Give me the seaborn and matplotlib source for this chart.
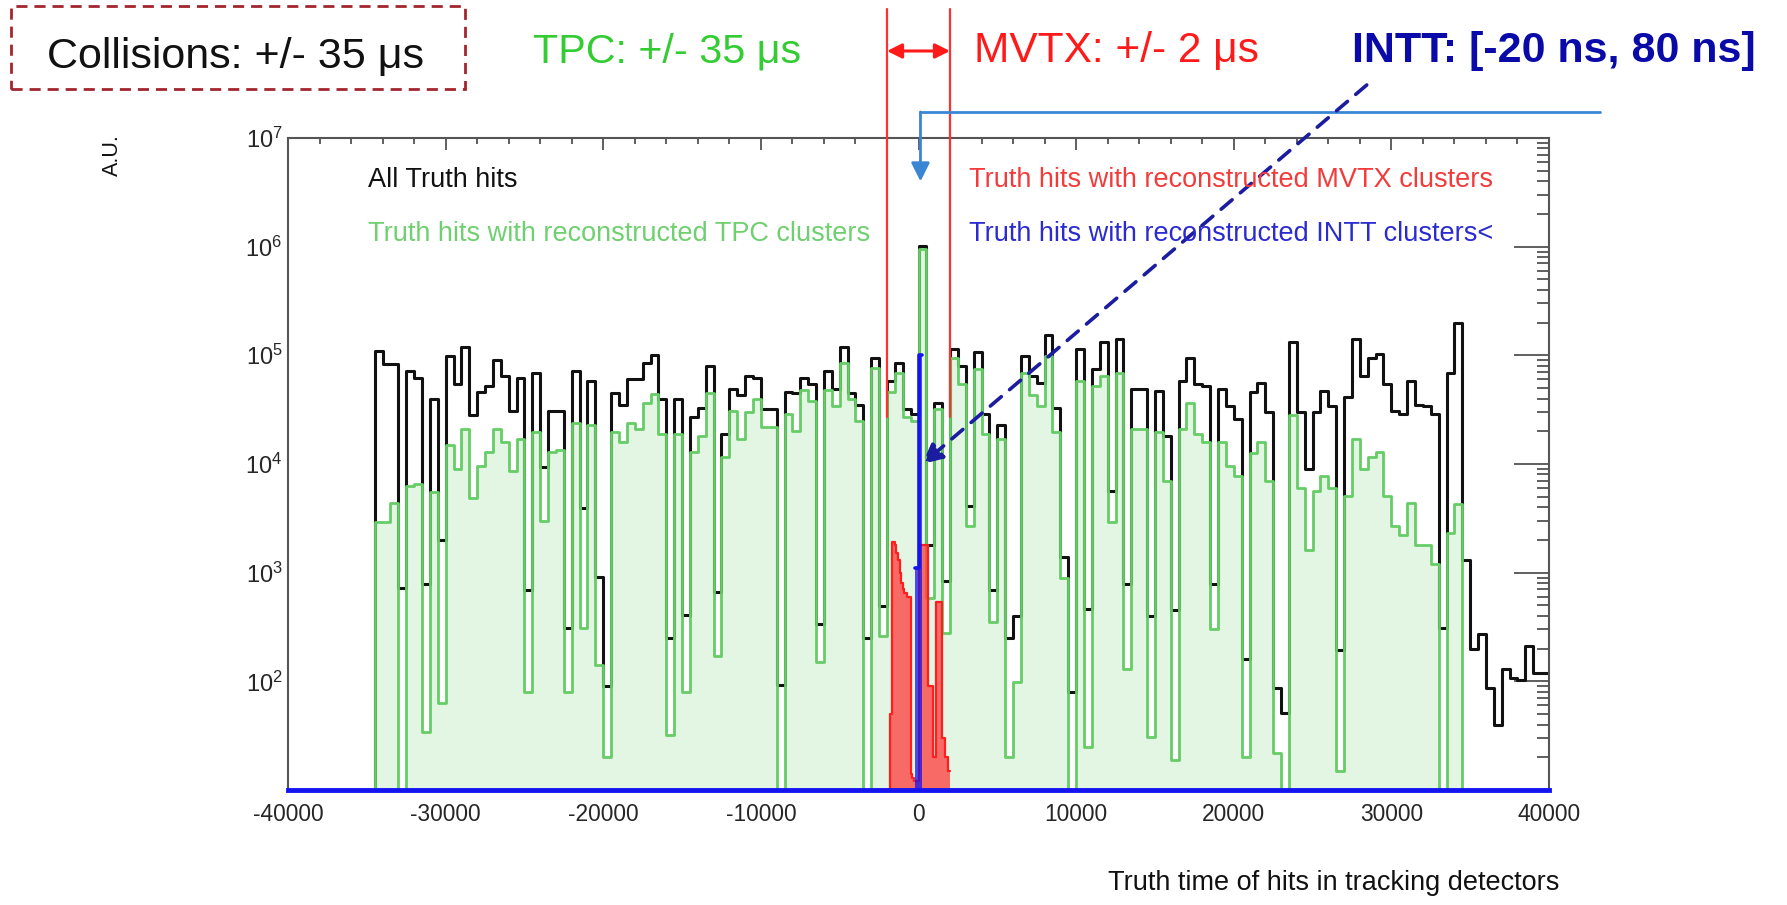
import numpy as np
import matplotlib
matplotlib.use("Agg")
import matplotlib.pyplot as plt
import seaborn as sns
from matplotlib import font_manager
from matplotlib.patches import Rectangle
from matplotlib.ticker import LogLocator, NullFormatter, MultipleLocator

# ---------------- data ----------------
bin_width = 500
first_edge = -34500          # left edge of first filled bin

# All truth hits (black), 500-unit bins starting at first_edge
all_hits = [
    110000, 83000, 83000, 720, 72000, 62000, 780, 40000, 2000, 98000,
    54000, 120000, 28000, 46000, 52000, 91000, 65000, 31000, 62000, 690,
    68000, 9300, 31000, 31000, 310, 72000, 3900, 58000, 910, 91,
    45000, 35000, 60000, 60000, 85000, 100000, 40000, 250, 40000, 410,
    27000, 33000, 79000, 660, 19000, 49000, 43000, 65000, 62000, 32000,
    32000, 93, 46000, 45000, 62000, 54000, 340, 72000, 49000, 120000,
    45000, 35000, 250, 95000, 490, 58000, 85000, 32000, 29000, 1020000,
    1800, 36000, 830, 115000, 79000, 4100, 107000, 29000, 690, 23000,
    250, 400, 98000, 65000, 56000, 155000, 33000, 1400, 79, 115000,
    460, 74000, 132000, 5600, 141000, 780, 49000, 49000, 400, 47000,
    18000, 450, 58000, 95000, 54000, 52000, 780, 49000, 34000, 26000,
    160, 46000, 56000, 30000, 87, 51, 132000, 30000, 8900, 30000,
    47000, 34000, 195, 41000, 141000, 65000, 95000, 102000, 54000, 31000,
    29000, 58000, 35000, 34000, 29000, 310, 68000, 200000, 1300, 200,
    270, 87, 40, 130, 107, 102, 210, 120, 120,
]

# Truth hits with reconstructed TPC clusters (green)
tpc_hits = [
    2900, 2900, 4400, 0, 6300, 6500, 34, 5500, 63, 15000,
    8900, 21000, 4900, 9500, 13000, 21000, 16000, 8700, 17000, 79,
    19500, 3000, 13000, 13500, 79, 24000, 310, 23000, 140, 20,
    19500, 16000, 24000, 21000, 36000, 44000, 19000, 32, 19000, 79,
    13000, 18000, 45000, 170, 11500, 31000, 17000, 30000, 40000, 22000,
    22000, 0, 29000, 20000, 48000, 38000, 150, 48000, 34000, 85000,
    40000, 25000, 0, 76000, 260, 46000, 68000, 27000, 25000, 950000,
    580, 32000, 280, 95000, 54000, 2700, 74000, 19000, 350, 17000,
    20, 98, 69000, 43000, 34000, 98000, 19500, 890, 0, 58000,
    25, 52000, 65000, 2900, 69000, 130, 21000, 21000, 31, 19500,
    6900, 19, 21000, 36000, 19000, 16000, 300, 16000, 9500, 7800,
    20, 12600, 16000, 6900, 22, 0, 28000, 6000, 1600, 5600,
    7800, 6000, 15, 5100, 17000, 8900, 11700, 13000, 5100, 2700,
    2200, 4400, 1800, 1800, 1200, 0, 2300, 4300,
]

# Truth hits with reconstructed MVTX clusters (red), 100-unit bins in [-2000, 2000]
mvtx_bin_width = 100
mvtx_first_edge = -2000
mvtx_hits = [
    0, 0, 50, 1900, 1900, 1800, 1500, 1300, 1000, 800,
    700, 650, 650, 600, 600, 14, 13, 12, 12, 12,
    1800, 1800, 1800, 1800, 1800, 1800, 90, 90, 90, 20,
    20, 540, 540, 540, 540, 30, 30, 20, 20, 15,
]

# Truth hits with reconstructed INTT clusters (blue)
intt_edges = [-250, 0, 250]
intt_hits = [1100, 100000]

# windows (annotations)
mvtx_window = 2000

x_ticks = [-40000, -30000, -20000, -10000, 0, 10000, 20000, 30000, 40000]
y_tick_exponents = [2, 3, 4, 5, 6, 7]

top_labels = ["Collisions: +/- 35 μs", "TPC: +/- 35 μs", "MVTX: +/- 2 μs",
              "INTT: [-20 ns, 80 ns]"]
legend_labels = ["All Truth hits",
                 "Truth hits with reconstructed TPC clusters",
                 "Truth hits with reconstructed MVTX clusters",
                 "Truth hits with reconstructed INTT clusters<"]
x_label = "Truth time of hits in tracking detectors"
y_label = "A.U."

# ---------------- style ----------------
sns.set_theme(style="white")
plt.rcParams["font.family"] = ["Liberation Sans", "DejaVu Sans"]
plt.rcParams["axes.unicode_minus"] = False
plt.rcParams["mathtext.fontset"] = "custom"
plt.rcParams["mathtext.rm"] = "Liberation Sans"

available = {f.name for f in font_manager.fontManager.ttflist}
narrow = None
narrow_scale = 1.0
for cand, scale in (("Liberation Sans Narrow", 0.82), ("DejaVu Sans Condensed", 0.95)):
    if cand in available:
        narrow, narrow_scale = cand, scale
        break

GREEN_LINE = "#66cd66"
GREEN_TXT = "#6fd06f"
BLACK = "#111111"
RED = "#ff1e1e"
BLUE = "#1414f0"

W, H = 1787, 905
fig = plt.figure(figsize=(W / 100, H / 100), dpi=100)
fig.patch.set_facecolor("white")
ax = fig.add_axes([288 / W, 1 - 790 / H, (1549 - 288) / W, (790 - 137.9) / H])

# full-range binning (zeros outside the data give the drops to the floor)
edges_full = np.arange(-40000, 40000 + bin_width, bin_width)
centers_full = edges_full[:-1] + bin_width / 2


def place(values, start):
    w = np.zeros(len(centers_full))
    i0 = int(round((start - edges_full[0]) / bin_width))
    w[i0:i0 + len(values)] = values
    return w


w_all = place(all_hits, first_edge)
w_tpc = place(tpc_hits, first_edge)

mvtx_edges = mvtx_first_edge + mvtx_bin_width * np.arange(len(mvtx_hits) + 1)
mvtx_centers = mvtx_edges[:-1] + mvtx_bin_width / 2
intt_centers = (np.array(intt_edges[:-1]) + np.array(intt_edges[1:])) / 2

bins_full = edges_full.tolist()
bins_mvtx = mvtx_edges.tolist()
bins_intt = list(intt_edges)

# green fill
sns.histplot(x=centers_full, weights=w_tpc, bins=bins_full, element="step",
             fill=True, color=GREEN_LINE, alpha=0.18, linewidth=0, ax=ax, zorder=1)
# black outline
sns.histplot(x=centers_full, weights=w_all, bins=bins_full, element="step",
             fill=False, color=BLACK, linewidth=2.2, ax=ax, zorder=2)
# green outline
sns.histplot(x=centers_full, weights=w_tpc, bins=bins_full, element="step",
             fill=False, color=GREEN_LINE, linewidth=2.0, ax=ax, zorder=3)
# red MVTX
sns.histplot(x=mvtx_centers, weights=mvtx_hits, bins=bins_mvtx, element="step",
             fill=True, color="#ff3c3c", alpha=0.75, linewidth=0, ax=ax, zorder=4)
sns.histplot(x=mvtx_centers, weights=mvtx_hits, bins=bins_mvtx, element="step",
             fill=False, color=RED, linewidth=1.6, ax=ax, zorder=5)
# blue INTT
sns.histplot(x=intt_centers, weights=intt_hits, bins=bins_intt, element="step",
             fill=True, color=BLUE, alpha=0.75, linewidth=0, ax=ax, zorder=6)
sns.histplot(x=intt_centers, weights=intt_hits, bins=bins_intt, element="step",
             fill=False, color=BLUE, linewidth=2.6, ax=ax, zorder=7)

ax.set_yscale("log")
ax.set_xlim(x_ticks[0], x_ticks[-1])
ax.set_ylim(10, 10.0 ** y_tick_exponents[-1])
ax.set_xlabel("")
ax.set_ylabel("")

# ticks, ROOT style
ax.set_xticks(x_ticks, labels=[str(t) for t in x_ticks])
ax.xaxis.set_minor_locator(MultipleLocator(2000))
ax.set_yticks([10.0 ** e for e in y_tick_exponents],
              labels=[r"$\mathregular{10^{%d}}$" % e for e in y_tick_exponents])
ax.yaxis.set_minor_locator(LogLocator(base=10, subs=np.arange(2, 10)))
ax.yaxis.set_minor_formatter(NullFormatter())
ax.tick_params(axis="both", which="both", direction="in", top=True, right=True,
               color="#444444", width=1.2)
ax.tick_params(axis="x", which="major", length=8.5, labelsize=16.4, pad=9)
ax.tick_params(axis="x", which="minor", length=4.5)
ax.tick_params(axis="y", which="major", length=25, labelsize=17, pad=4)
ax.tick_params(axis="y", which="minor", length=9)

for s in ax.spines.values():
    s.set_color("#555555")
    s.set_linewidth(1.5)
ax.spines["bottom"].set_color(BLUE)
ax.spines["bottom"].set_linewidth(3.5)
ax.spines["bottom"].set_zorder(8)

# ---------------- in-axes legend texts ----------------
fs_leg = 19.5
fig.text(368 / W, 1 - 180 / H, legend_labels[0], color=BLACK, fontsize=fs_leg, va="center")
fig.text(368 / W, 1 - 234 / H, legend_labels[1], color=GREEN_TXT, fontsize=fs_leg, va="center")
fig.text(969 / W, 1 - 180 / H, legend_labels[2], color="#f23c3c", fontsize=fs_leg, va="center")
fig.text(969 / W, 1 - 234 / H, legend_labels[3], color="#2b2bd0", fontsize=fs_leg, va="center")

# axis titles
fig.text(1559 / W, 1 - 883 / H, x_label, fontsize=19.5, ha="right", va="center", color=BLACK)
fig.text(112 / W, 1 - 155 / H, y_label, fontsize=15.5, rotation=90, ha="center", va="center",
         color=BLACK)

# ---------------- top annotations ----------------
def top_text(x, y, s, color, size, weight="normal"):
    if narrow:
        fig.text(x / W, 1 - y / H, s, color=color, fontsize=size / narrow_scale,
                 family=[narrow, "DejaVu Sans"], weight=weight, ha="center", va="center")
    else:
        fig.text(x / W, 1 - y / H, s, color=color, fontsize=size, weight=weight,
                 ha="center", va="center")


top_text(235.5, 57, top_labels[0], "#111111", 31)
top_text(667, 51, top_labels[1], "#33cc33", 29.7)
top_text(1116.5, 51, top_labels[2], "#ff1a1a", 30.5)
top_text(1554, 51, top_labels[3], "#0a0aa8", 31, weight="bold")

box = Rectangle((11.4 / W, 1 - 89 / H), (465 - 11.4) / W, (89 - 5.7) / H,
                transform=fig.transFigure, fill=False, edgecolor="#a3262f",
                linewidth=2.0, linestyle=(0, (4, 2.5)))
fig.add_artist(box)

# MVTX window lines and double arrow
y_fig_top = 10 ** (7 + (137.9 - 9) / 108.67)
y_line_low = 2.7e4
for xv in (-mvtx_window, mvtx_window):
    ax.plot([xv, xv], [y_line_low, y_fig_top], color="#ff3030", lw=1.6,
            clip_on=False, zorder=9)
y_arrow = 10 ** (7 + (137.9 - 51) / 108.67)
ax.annotate("", xy=(-mvtx_window, y_arrow), xytext=(mvtx_window, y_arrow),
            arrowprops=dict(arrowstyle="<|-|>", color="#ff1a1a", lw=2.2,
                            mutation_scale=22, shrinkA=0, shrinkB=0),
            annotation_clip=False)

# light blue arrow pointing at the INTT bin
intt_x = intt_centers[-1]
y_hline = 10 ** (7 + (137.9 - 112) / 108.67)
x_hline_end = (1601 - 290.6) / 0.015743 - 40000
ax.plot([intt_x, x_hline_end], [y_hline, y_hline], color="#3a86d4", lw=2,
        clip_on=False, zorder=9)
ax.annotate("", xy=(intt_x, 10 ** 6.6), xytext=(intt_x, y_hline),
            arrowprops=dict(arrowstyle="-|>", color="#3a86d4", lw=2,
                            mutation_scale=28, shrinkA=0, shrinkB=0),
            annotation_clip=False, zorder=9)

# dashed arrow from INTT label to INTT spike
x_lab = (1368 - 290.6) / 0.015743 - 40000
y_lab = 10 ** (7 + (137.9 - 85) / 108.67)
ax.annotate("", xy=(intt_edges[-1], 1.0e4), xytext=(x_lab, y_lab),
            arrowprops=dict(arrowstyle="-|>", color="#1c1ca0", lw=2.6,
                            linestyle=(0, (4, 3)), mutation_scale=30,
                            shrinkA=0, shrinkB=0),
            annotation_clip=False, zorder=10)

fig.savefig("out.png", dpi=100, facecolor="white")
